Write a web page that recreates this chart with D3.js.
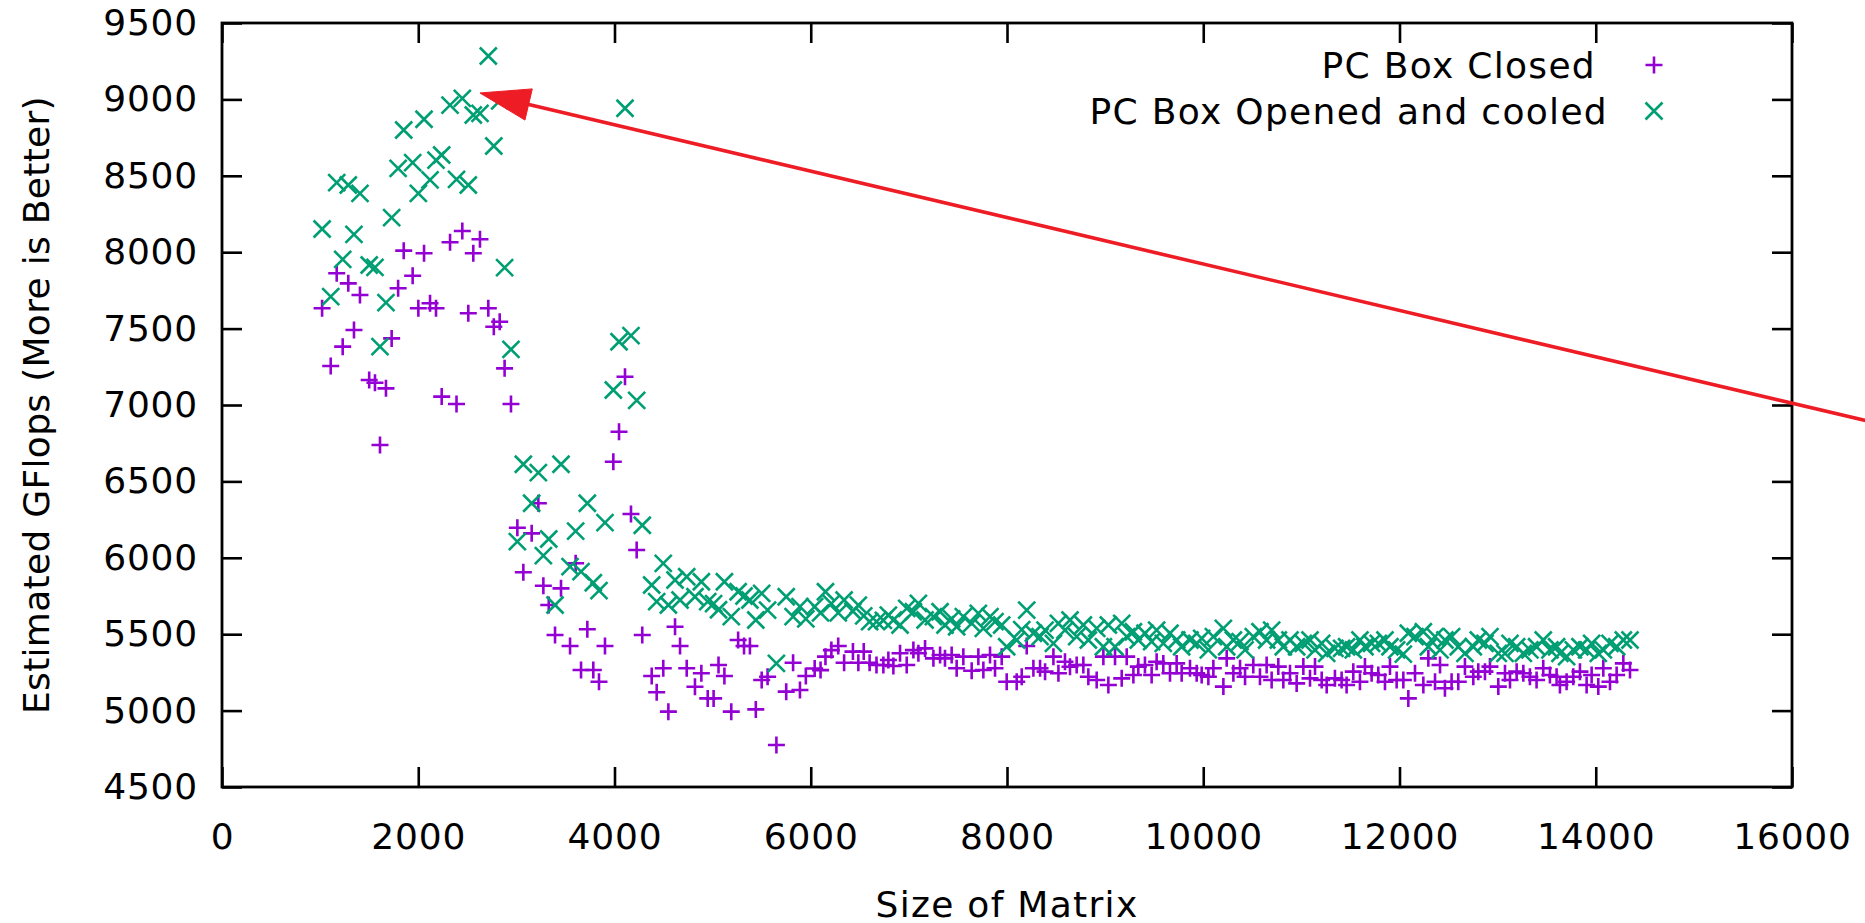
<!DOCTYPE html>
<html>
<head>
<meta charset="utf-8">
<script src="https://cdn.jsdelivr.net/npm/d3@7"></script>
<style>
  html, body { margin: 0; padding: 0; background: #fff; }
  svg { display: block; }
  text { font-family: "DejaVu Sans", sans-serif; }
</style>
</head>
<body>
<svg id="chart" width="1865" height="923"></svg>
<script>
// ---------- data ----------
const sizes = [
  1020,1108,1169,1230,1287,1345,1406,1500,1559,1610,1671,1729,1795,1852,1943,2001,2059,2120,2181,2239,
  2324,2390,2449,2510,2561,2629,2714,2770,2830,2880,2945,3010,3071,3156,3224,3275,3330,3394,3455,3547,
  3604,3659,3723,3784,3842,3903,3988,4046,4107,4168,4226,4283,4379,4430,4497,4549,4617,4668,4736,
  4820,4885,4950,5010,5060,5120,5190,5260,5320,5380,5440,5500,5560,5650,5750,5820,5890,5950,6040,6100,
  6150,6210,6280,6340,6430,6485,6540,6600,6670,6740,
  6791,6842,6910,6978,7046,7097,7165,7250,7318,7368,7436,7487,7555,7640,7708,7759,7827,7878,7946,7997,
  8099,8150,8201,8269,8337,8388,8473,8524,8591,8642,8710,
  8778,8829,8914,8982,9033,9101,9169,9220,9288,9338,9406,9474,9525,9593,9661,9729,9780,9865,9933,9984,
  10052,10103,10205,10239,10307,10375,10426,10510,10578,10646,10697,
  10765,10816,10884,10952,11020,11088,11139,11207,11258,11342,11410,11461,11529,11597,11648,11716,11784,11852,11903,11971,
  12039,12090,12158,12243,12294,12362,12413,12463,12531,12599,12667,
  12752,12803,12871,12922,13007,13075,13126,13194,13262,13329,13397,13465,13533,13601,13635,13703,13771,13839,13907,13958,
  14026,14077,14145,14213,14281,14349
];

const boxClosed = [
  7633,7255,7862,7382,7796,7491,7720,7164,7146,6738,7109,7436,7764,8010,7846,7633,7993,7666,7633,7055,
  8065,7007,8139,7600,7993,8085,7633,7512,7545,7240,7007,6197,5905,6160,6357,5817,5691,5495,5800,5423,
  5964,5266,5532,5266,5189,5423,6629,6825,7185,6287,6051,5495,5226,5120,5277,4993,5549,5423,5277,
  5156,5244,5080,5080,5298,5226,4993,5462,5423,5423,5008,5200,5222,4775,5124,5313,5135,5226,5276,5265,
  5353,5396,5423,5313,5386,5313,5386,5313,5298,5298,
  5331,5292,5375,5298,5396,5375,5407,5342,5364,5342,5364,5277,5353,5261,5353,5266,5364,5277,5353,5189,
  5189,5222,5423,5277,5277,5255,5353,5244,5320,5287,5298,
  5298,5222,5200,5353,5168,5353,5211,5353,5233,5288,5298,5233,5320,5309,5244,5309,5244,5277,5244,5233,
  5222,5277,5157,5342,5244,5277,5222,5298,5222,5298,5200,
  5288,5200,5244,5178,5288,5211,5288,5200,5168,5211,5200,5168,5255,5189,5288,5244,5233,5189,5288,5200,
  5200,5080,5244,5168,5342,5189,5298,5146,5189,5189,5288,
  5222,5255,5255,5288,5157,5244,5200,5255,5244,5222,5200,5277,5233,5222,5168,5189,5222,5255,5168,5233,
  5157,5277,5189,5233,5309,5266
];

const boxOpened = [
  8152,7709,8455,7953,8440,8117,8385,7916,7901,7382,7670,8226,8549,8800,8586,8385,8870,8473,8603,8636,
  8963,8477,9007,8440,8898,8909,9284,8695,8990,7899,7364,6106,6612,6357,6557,6014,6123,5691,6612,5942,
  6175,5909,6357,5837,5785,6230,7098,7414,8942,7454,7030,6213,5822,5713,5964,5691,5855,5724,5876,
  5745,5843,5713,5700,5660,5843,5615,5778,5750,5724,5593,5767,5658,5309,5745,5615,5680,5600,5680,5640,
  5778,5700,5640,5724,5650,5690,5620,5582,5582,5590,
  5625,5593,5560,5669,5647,5702,5593,5615,5647,5560,5600,5549,5615,5571,5636,5538,5615,5582,5560,5418,
  5462,5530,5658,5506,5484,5527,5440,5571,5527,5593,5484,
  5560,5462,5538,5418,5560,5418,5571,5484,5516,5462,5506,5451,5527,5440,5506,5462,5418,5462,5440,5473,
  5397,5484,5538,5418,5462,5451,5397,5484,5516,5462,5527,
  5462,5418,5462,5418,5440,5462,5397,5440,5375,5407,5407,5418,5397,5462,5418,5440,5440,5462,5418,5397,
  5370,5506,5484,5516,5418,5484,5397,5462,5484,5418,5375,
  5418,5462,5440,5484,5375,5375,5440,5418,5375,5397,5418,5462,5397,5418,5375,5353,5397,5418,5397,5440,
  5375,5397,5440,5418,5462,5462
];

const xTicks = [0,2000,4000,6000,8000,10000,12000,14000,16000];
const yTicks = [4500,5000,5500,6000,6500,7000,7500,8000,8500,9000,9500];
const seriesNames = ["PC Box Closed", "PC Box Opened and cooled"];
const arrowFrom = [17000, 6860];
const arrowTo = [2629, 9042];
const xLabel = "Size of Matrix";
const yLabel = "Estimated GFlops (More is Better)";

// ---------- drawing ----------
const W = 1865, H = 923;
const L = 222, R = 1792, T = 23, B = 787;
const purple = "#9400d3", green = "#009e73", red = "#ee1c25";
const FS = 36;
const LS = 1.3; // horizontal text letter spacing (hinted gnuplot text is slightly wider)

const svg = d3.select("#chart");
svg.append("rect").attr("width", W).attr("height", H).attr("fill", "#fff");

const x = d3.scaleLinear().domain([0, 16000]).range([L, R]);
const y = d3.scaleLinear().domain([4500, 9500]).range([B, T]);

function styleAxis(g) {
  g.selectAll(".domain").remove();
  g.selectAll(".tick line").attr("stroke", "#000").attr("stroke-width", 2.6);
  g.selectAll(".tick text").attr("font-size", FS).attr("fill", "#000")
    .attr("letter-spacing", 0.8)
    .attr("font-family", "DejaVu Sans, sans-serif");
}

svg.append("g").attr("transform", `translate(0,${B})`)
  .call(d3.axisBottom(x).tickValues(xTicks).tickFormat(d3.format("d")).tickSizeInner(-20).tickSizeOuter(0).tickPadding(36))
  .call(styleAxis);
svg.append("g").attr("transform", `translate(0,${T})`)
  .call(d3.axisTop(x).tickValues(xTicks).tickFormat(() => "").tickSizeInner(-20).tickSizeOuter(0))
  .call(styleAxis);
svg.append("g").attr("transform", `translate(${L},0)`)
  .call(d3.axisLeft(y).tickValues(yTicks).tickFormat(d3.format("d")).tickSizeInner(-20).tickSizeOuter(0).tickPadding(24))
  .call(styleAxis);
svg.append("g").attr("transform", `translate(${R},0)`)
  .call(d3.axisRight(y).tickValues(yTicks).tickFormat(() => "").tickSizeInner(-20).tickSizeOuter(0))
  .call(styleAxis);

// frame
svg.append("rect").attr("x", L).attr("y", T).attr("width", R - L).attr("height", B - T)
  .attr("fill", "none").attr("stroke", "#000").attr("stroke-width", 2.8);

// axis labels
svg.append("text").attr("x", (L + R) / 2).attr("y", 904)
  .attr("text-anchor", "middle").attr("dominant-baseline", "central")
  .attr("letter-spacing", LS)
  .attr("font-size", FS).text(xLabel);
svg.append("text").attr("transform", `translate(36,${(T + B) / 2}) rotate(-90)`)
  .attr("text-anchor", "middle").attr("dominant-baseline", "central")
  .attr("letter-spacing", 0.3)
  .attr("font-size", FS).text(yLabel);

// marker paths
const PS = 8.5, XS = 8.5;
const plusPath = (cx, cy) => `M${cx - PS},${cy}h${2 * PS}M${cx},${cy - PS}v${2 * PS}`;
const crossPath = (cx, cy) => `M${cx - XS},${cy - XS}l${2 * XS},${2 * XS}M${cx - XS},${cy + XS}l${2 * XS},${-2 * XS}`;

const closedPts = sizes.map((s, i) => [s, boxClosed[i]]);
const openedPts = sizes.map((s, i) => [s, boxOpened[i]]);

const gP = svg.append("g");
gP.selectAll("path").data(closedPts).join("path")
  .attr("d", d => plusPath(x(d[0]), y(d[1])))
  .attr("stroke", purple).attr("stroke-width", 2.6).attr("fill", "none");

const gG = svg.append("g");
gG.selectAll("path").data(openedPts).join("path")
  .attr("d", d => crossPath(x(d[0]), y(d[1])))
  .attr("stroke", green).attr("stroke-width", 2.6).attr("fill", "none");

// legend
const legEnds = [1596, 1608], legM = 1654;
const legRows = [65, 111];
svg.append("text").attr("x", legEnds[0]).attr("y", legRows[0]).attr("text-anchor", "end")
  .attr("dominant-baseline", "central").attr("letter-spacing", LS).attr("font-size", FS).text(seriesNames[0]);
svg.append("path").attr("d", plusPath(legM, legRows[0])).attr("stroke", purple).attr("stroke-width", 2.6);
svg.append("text").attr("x", legEnds[1]).attr("y", legRows[1]).attr("text-anchor", "end")
  .attr("dominant-baseline", "central").attr("letter-spacing", LS).attr("font-size", FS).text(seriesNames[1]);
svg.append("path").attr("d", crossPath(legM, legRows[1])).attr("stroke", green).attr("stroke-width", 2.6);

// arrow
const ax0 = x(arrowFrom[0]), ay0 = y(arrowFrom[1]);
const ax1 = x(arrowTo[0]), ay1 = y(arrowTo[1]);
const dx = ax0 - ax1, dy = ay0 - ay1, len = Math.hypot(dx, dy);
const ux = dx / len, uy = dy / len;
const headL = 50, headW = 16;
const bx = ax1 + ux * headL, by = ay1 + uy * headL;
svg.append("line").attr("x1", ax0).attr("y1", ay0).attr("x2", bx - ux * 2).attr("y2", by - uy * 2)
  .attr("stroke", red).attr("stroke-width", 3.6);
svg.append("path")
  .attr("d", `M${ax1},${ay1}L${bx - uy * headW},${by + ux * headW}L${bx + uy * headW},${by - ux * headW}Z`)
  .attr("fill", red).attr("stroke", red).attr("stroke-width", 1);
</script>
</body>
</html>
